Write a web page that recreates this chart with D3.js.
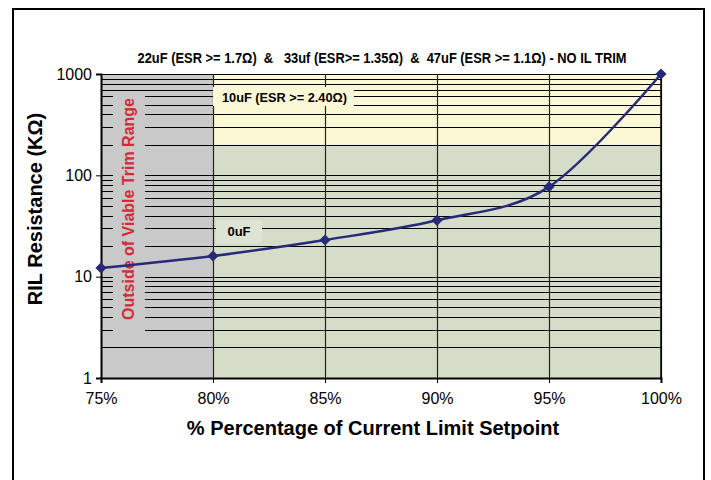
<!DOCTYPE html>
<html lang="en">
  <head>
    <script src="https://cdn.jsdelivr.net/npm/d3@7"></script>
    <style>
      body { margin:0; background:#fff; }
      text { font-family: Arial, "Liberation Sans", sans-serif; }
    </style>
  </head>
  <body>
    <svg class='chart'></svg>
  </body>
  <script>
    // data
    var setpoints = [75, 80, 85, 90, 95, 100];
    var resistance = [12.2, 16, 23, 36, 77, 1000];
    var xTicks = [75, 80, 85, 90, 95, 100];
    var yTicks = [1, 10, 100, 1000];
    var title = '22uF (ESR >= 1.7\u03A9)  &   33uf (ESR>= 1.35\u03A9)  &  47uF (ESR >= 1.1\u03A9) - NO IL TRIM';
    var bandLabels = ['10uF (ESR >= 2.40\u03A9)', '0uF'];
    var outsideLabel = 'Outside of Viable Trim Range';

    var screenWidth = 711, screenHeight = 480;
    var svg = d3.select('.chart').attr('width', screenWidth).attr('height', screenHeight);

    var margins = { top: 74, bottom: 102, left: 101, right: 50 };
    var width = screenWidth - margins.left - margins.right;
    var height = screenHeight - margins.top - margins.bottom;

    // outer frame
    svg.append('rect').attr('x', 13).attr('y', 9).attr('width', 691).attr('height', 490)
       .attr('fill', 'none').attr('stroke', '#000').attr('stroke-width', 2);

    var xScale = d3.scaleLinear().domain([75, 100]).range([0, width]);
    var yScale = d3.scaleLog().domain([1, 1000]).range([height, 0]);

    var plot = svg.append('g').attr('transform', 'translate(' + margins.left + ',' + margins.top + ')');

    // background bands
    plot.append('rect').attr('x', xScale(75)).attr('y', 0)
        .attr('width', xScale(80) - xScale(75)).attr('height', height).attr('fill', '#c9c9c9');
    plot.append('rect').attr('x', xScale(80)).attr('y', yScale(1000))
        .attr('width', xScale(100) - xScale(80)).attr('height', yScale(200) - yScale(1000)).attr('fill', '#fbf8d6');
    plot.append('rect').attr('x', xScale(80)).attr('y', yScale(200))
        .attr('width', xScale(100) - xScale(80)).attr('height', yScale(1) - yScale(200)).attr('fill', '#d5ddc9');

    // horizontal log gridlines
    var gridVals = [];
    for (var d = 1; d <= 100; d *= 10) {
      for (var m = 1; m <= 9; m++) { if (d * m > 1) gridVals.push(d * m); }
    }
    gridVals.push(1000);
    plot.selectAll('line.hgrid').data(gridVals).enter().append('line').classed('hgrid', true)
        .attr('x1', 0).attr('x2', width)
        .attr('y1', function(d){ return Math.round(yScale(d)) + 0.5; })
        .attr('y2', function(d){ return Math.round(yScale(d)) + 0.5; })
        .attr('stroke', '#000').attr('stroke-width', 1.2);

    // vertical gridlines
    plot.selectAll('line.vgrid').data(xTicks.slice(1)).enter().append('line').classed('vgrid', true)
        .attr('x1', function(d){ return Math.round(xScale(d)) + 0.5; })
        .attr('x2', function(d){ return Math.round(xScale(d)) + 0.5; })
        .attr('y1', 0).attr('y2', height)
        .attr('stroke', '#222').attr('stroke-width', 1.2);

    // red rotated label with grey box
    plot.append('rect').attr('x', 12).attr('y', 20).attr('width', 32).attr('height', 250).attr('fill', '#c9c9c9');
    plot.append('text')
        .attr('transform', 'translate(' + 33 + ',' + 135 + ') rotate(-90)')
        .attr('text-anchor', 'middle').attr('font-size', 16).attr('font-weight', 'bold')
        .attr('textLength', 222).attr('lengthAdjust', 'spacingAndGlyphs')
        .attr('fill', '#d42a3a').text(outsideLabel);

    // band label boxes
    plot.append('rect').attr('x', xScale(80)).attr('y', 13).attr('width', 141).attr('height', 19).attr('fill', '#fbf8d6');
    plot.append('text').attr('x', xScale(80) + 9).attr('y', 28).attr('font-size', 13).attr('font-weight', 'bold')
        .attr('textLength', 125).attr('lengthAdjust', 'spacingAndGlyphs').text(bandLabels[0]);
    plot.append('rect').attr('x', xScale(80) + 3).attr('y', 146).attr('width', 46).attr('height', 23).attr('fill', '#dee4d4');
    plot.append('text').attr('x', xScale(80) + 26).attr('y', 162).attr('text-anchor', 'middle')
        .attr('font-size', 13).attr('font-weight', 'bold').text(bandLabels[1]);

    // axes
    var xAxis = d3.axisBottom(xScale).tickValues(xTicks).tickSize(5).tickPadding(10).tickFormat(function(d){ return d + '%'; });
    var gx = plot.append('g').attr('transform', 'translate(0,' + height + ')').call(xAxis);
    gx.select('.domain').attr('stroke-width', 2);
    gx.selectAll('text').attr('font-size', 16).attr('fill', '#000')
      .style('font-family', 'Arial, "Liberation Sans", sans-serif');

    var yAxis = d3.axisLeft(yScale).tickValues(yTicks).tickSize(5).tickPadding(4).tickFormat(d3.format('d'));
    var gy = plot.append('g').call(yAxis);
    gy.select('.domain').attr('stroke-width', 2);
    gy.selectAll('text').attr('font-size', 16).attr('fill', '#000')
      .style('font-family', 'Arial, "Liberation Sans", sans-serif');

    // right edge
    plot.append('line').attr('x1', width).attr('x2', width).attr('y1', 0).attr('y2', height)
        .attr('stroke', '#000').attr('stroke-width', 1.5);

    // series line
    var line = d3.line()
                 .x(function(d, i){ return xScale(setpoints[i]); })
                 .y(function(d){ return yScale(d); })
                 .curve(d3.curveCardinal.tension(0));
    plot.append('path').datum(resistance).attr('d', line)
        .attr('fill', 'none').attr('stroke', '#272a78').attr('stroke-width', 2.5);

    plot.selectAll('path.mark').data(resistance).enter().append('path').classed('mark', true)
        .attr('d', d3.symbol().type(d3.symbolDiamond2).size(80))
        .attr('transform', function(d, i){ return 'translate(' + xScale(setpoints[i]) + ',' + yScale(d) + ')'; })
        .attr('fill', '#272a78');

    // titles
    svg.append('text').attr('x', 382).attr('y', 63).attr('text-anchor', 'middle')
       .attr('font-size', 14).attr('font-weight', 'bold')
       .attr('textLength', 489).attr('lengthAdjust', 'spacingAndGlyphs')
       .style('white-space', 'pre').text(title);

    svg.append('text').attr('transform', 'translate(42,' + 209 + ') rotate(-90)')
       .attr('text-anchor', 'middle').attr('font-size', 20).attr('font-weight', 'bold')
       .text('RIL Resistance (K\u03A9)');

    svg.append('text').attr('x', 373).attr('y', 435).attr('text-anchor', 'middle')
       .attr('font-size', 20).attr('font-weight', 'bold')
       .text('% Percentage of Current Limit Setpoint');
  </script>
</html>
